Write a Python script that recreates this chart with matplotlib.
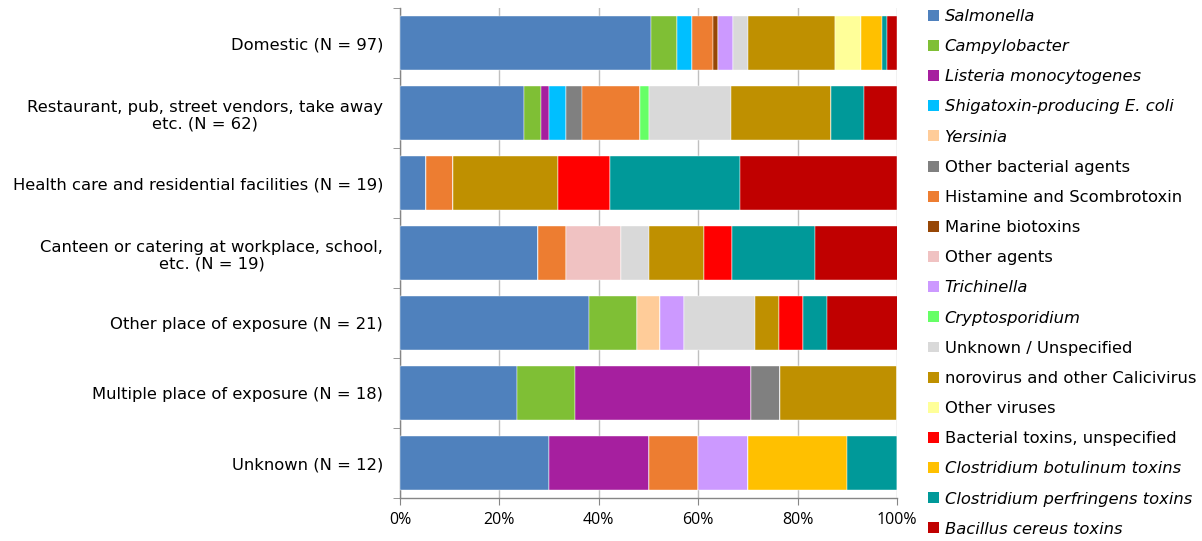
import matplotlib
matplotlib.use("Agg")
import matplotlib.pyplot as plt
from matplotlib.patches import Patch
import numpy as np

categories = [
    "Domestic (N = 97)",
    "Restaurant, pub, street vendors, take away\netc. (N = 62)",
    "Health care and residential facilities (N = 19)",
    "Canteen or catering at workplace, school,\netc. (N = 19)",
    "Other place of exposure (N = 21)",
    "Multiple place of exposure (N = 18)",
    "Unknown (N = 12)",
]

series_names = [
    "Salmonella", "Campylobacter", "Listeria monocytogenes",
    "Shigatoxin-producing E. coli", "Yersinia", "Other bacterial agents",
    "Histamine and Scombrotoxin", "Marine biotoxins", "Other agents",
    "Trichinella", "Cryptosporidium", "Unknown / Unspecified",
    "norovirus and other Calicivirus", "Other viruses",
    "Bacterial toxins, unspecified", "Clostridium botulinum toxins",
    "Clostridium perfringens toxins", "Bacillus cereus toxins",
]
italic_series = {"Salmonella", "Campylobacter", "Listeria monocytogenes",
                 "Shigatoxin-producing E. coli", "Yersinia", "Trichinella",
                 "Cryptosporidium", "Clostridium botulinum toxins",
                 "Clostridium perfringens toxins", "Bacillus cereus toxins"}

colors = [
    "#4F81BD", "#7FBF35", "#A61F9F", "#00BFFF", "#FFCC99", "#808080",
    "#ED7D31", "#974706", "#F0C2C2", "#CC99FF", "#66FF66", "#D9D9D9",
    "#BF9000", "#FFFF99", "#FF0000", "#FFC000", "#009999", "#C00000",
]

# Percentages per category (rows) for each series (columns in series order)
domestic    = [50.5, 5.2, 0, 3.1, 0, 0, 4.1, 1.0, 0, 3.1, 0, 3.1, 17.5, 5.2, 0, 4.1, 1.0, 2.1]
restaurant  = [25.0, 3.3, 1.7, 3.3, 0, 3.3, 11.7, 0, 0, 0, 1.7, 16.7, 20.0, 0, 0, 0, 6.7, 6.7]
health_care = [5.3, 0, 0, 0, 0, 0, 5.3, 0, 0, 0, 0, 0, 21.1, 0, 10.5, 0, 26.3, 31.6]
canteen     = [27.8, 0, 0, 0, 0, 0, 5.6, 0, 11.1, 0, 0, 5.6, 11.1, 0, 5.6, 0, 16.7, 16.7]
other_place = [38.1, 9.5, 0, 0, 4.8, 0, 0, 0, 0, 4.8, 0, 14.3, 4.8, 0, 4.8, 0, 4.8, 14.3]
multiple    = [23.5, 11.8, 35.3, 0, 0, 5.9, 0, 0, 0, 0, 0, 0, 23.5, 0, 0, 0, 0, 0]
unknown     = [30.0, 0, 20.0, 0, 0, 0, 10.0, 0, 0, 10.0, 0, 0, 0, 0, 0, 20.0, 10.0, 0]

xticks = [0, 20, 40, 60, 80, 100]
xticklabels = ["0%", "20%", "40%", "60%", "80%", "100%"]

rows = [domestic, restaurant, health_care, canteen, other_place, multiple, unknown]
data = np.array(rows, dtype=float)

fig = plt.figure(figsize=(12.02, 5.41), dpi=100)
ax = fig.add_axes([400 / 1202, 1 - 498 / 541, 497 / 1202, 490 / 541])

y = np.arange(len(categories))
left = np.zeros(len(categories))
for j, name in enumerate(series_names):
    vals = data[:, j]
    ax.barh(y, vals, left=left, height=0.77, color=colors[j],
            edgecolor="white", linewidth=0.3, zorder=3)
    left += vals

ax.set_xlim(0, 100)
ax.set_ylim(len(categories) - 0.5, -0.5)
ax.set_xticks(xticks)
ax.set_xticklabels(xticklabels, fontsize=11.5, family="Open Sans")
ax.set_yticks(y)
ax.set_yticklabels(categories, fontsize=11.8, ha="right", multialignment="center")
ax.set_yticks(np.arange(len(categories) + 1) - 0.5, minor=True)
ax.tick_params(axis="y", which="major", length=0, pad=12)
ax.tick_params(axis="y", which="minor", length=5, color="#868686", direction="out")
ax.tick_params(axis="x", length=5, color="#868686", direction="out", pad=5)

ax.grid(axis="x", color="#C0C0C0", linewidth=1.0, zorder=0)
ax.set_axisbelow(True)
for s in ["top", "right"]:
    ax.spines[s].set_visible(False)
for s in ["left", "bottom"]:
    ax.spines[s].set_color("#868686")
    ax.spines[s].set_linewidth(1.0)

handles = [Patch(facecolor=c, edgecolor="none") for c in colors]
leg = fig.legend(handles, series_names, loc="upper left",
                 bbox_to_anchor=(928 / 1202, 1 - 9 / 541),
                 frameon=False, fontsize=11.8, handlelength=0.65,
                 handleheight=0.65, handletextpad=0.37, labelspacing=0.925,
                 borderaxespad=0, borderpad=0)
for t in leg.get_texts():
    if t.get_text() in italic_series:
        t.set_fontstyle("italic")

fig.savefig("out.png", dpi=100)
